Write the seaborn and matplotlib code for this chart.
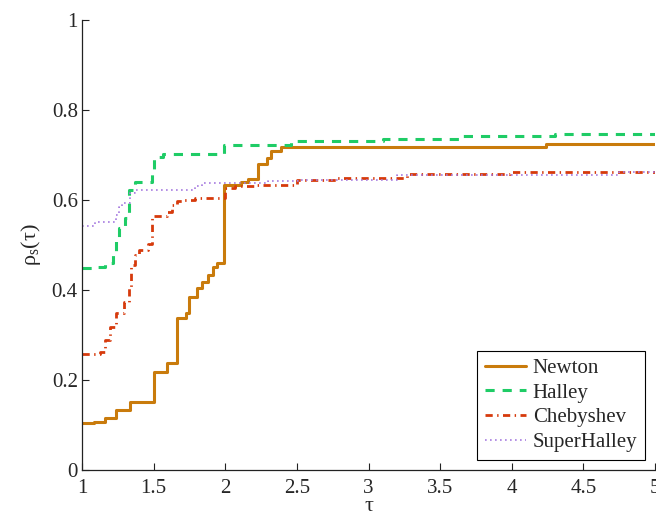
import matplotlib
matplotlib.use("Agg")
import matplotlib.pyplot as plt
import seaborn as sns
import pandas as pd

# ---- data (step profiles: value holds from x_i to x_{i+1}) ----
newton_x = [1, 1.084, 1.16, 1.24, 1.335, 1.5, 1.59, 1.66, 1.726, 1.747, 1.80, 1.835,
            1.88, 1.916, 1.94, 1.993, 2.11, 2.16, 2.23, 2.29, 2.32, 2.39, 4.236, 5]
newton_y = [0.104, 0.107, 0.115, 0.133, 0.152, 0.217, 0.237, 0.337, 0.349, 0.385, 0.404, 0.418,
            0.433, 0.452, 0.459, 0.633, 0.641, 0.646, 0.681, 0.693, 0.710, 0.718, 0.724, 0.724]

halley_x = [1, 1.09, 1.16, 1.216, 1.24, 1.26, 1.30, 1.33, 1.37, 1.49, 1.50, 1.567,
            1.99, 2.46, 3.1, 3.65, 4.3, 5]
halley_y = [0.450, 0.452, 0.459, 0.478, 0.511, 0.538, 0.560, 0.622, 0.641, 0.659, 0.696, 0.702,
            0.722, 0.731, 0.736, 0.742, 0.746, 0.746]

cheb_x = [1, 1.126, 1.16, 1.195, 1.24, 1.29, 1.33, 1.345, 1.37, 1.40, 1.46, 1.49,
          1.59, 1.626, 1.66, 1.707, 1.79, 2.0, 2.07, 2.2, 2.5, 2.78, 3.27, 3.99, 5]
cheb_y = [0.258, 0.263, 0.289, 0.318, 0.348, 0.374, 0.407, 0.456, 0.478, 0.489, 0.502, 0.564,
          0.574, 0.589, 0.598, 0.600, 0.605, 0.626, 0.631, 0.633, 0.644, 0.648, 0.657, 0.663, 0.665]

super_x = [1, 1.09, 1.237, 1.26, 1.277, 1.335, 1.37, 1.79, 1.835, 2.3, 2.51, 3.2, 4.75, 5]
super_y = [0.542, 0.550, 0.567, 0.585, 0.593, 0.616, 0.622, 0.631, 0.637, 0.643, 0.644, 0.656, 0.663, 0.663]

solvers = ["Newton", "Halley", "Chebyshev", "SuperHalley"]
x_ticks = [1, 1.5, 2, 2.5, 3, 3.5, 4, 4.5, 5]
x_tick_labels = ["1", "1.5", "2", "2.5", "3", "3.5", "4", "4.5", "5"]
y_ticks = [0, 0.2, 0.4, 0.6, 0.8, 1]
y_tick_labels = ["0", "0.2", "0.4", "0.6", "0.8", "1"]

series = {
    "Newton": (newton_x, newton_y),
    "Halley": (halley_x, halley_y),
    "Chebyshev": (cheb_x, cheb_y),
    "SuperHalley": (super_x, super_y),
}

styles = {
    "Newton": dict(color="#C97B0C", lw=2.2, ls="-"),
    "Halley": dict(color="#1FCC66", lw=2.2, ls=(0, (3, 2.6))),
    "Chebyshev": dict(color="#D63A0C", lw=2.0, ls=(0, (2.6, 1.6, 0.5, 1.6))),
    "SuperHalley": dict(color="#A77BE0", lw=1.2, ls=(0, (1, 2))),
}

sns.set_style("ticks")
plt.rcParams["font.family"] = ["Liberation Serif", "DejaVu Serif"]
plt.rcParams["mathtext.fontset"] = "custom"
plt.rcParams["mathtext.rm"] = "Liberation Serif"
plt.rcParams["mathtext.it"] = "Liberation Serif"

fig = plt.figure(figsize=(6.56, 5.16), dpi=100)
ax = fig.add_axes([82 / 656, 1 - 470 / 516, (655 - 82) / 656, (470 - 20) / 516])

for name in solvers:
    xs, ys = series[name]
    df = pd.DataFrame({"tau": xs, "rho": ys})
    st = styles[name]
    sns.lineplot(data=df, x="tau", y="rho", ax=ax, estimator=None, sort=False,
                 drawstyle="steps-post", color=st["color"], linewidth=st["lw"],
                 linestyle=st["ls"], label=name)

ax.set_xlim(1, 5)
ax.set_ylim(0, 1)
ax.set_xticks(x_ticks)
ax.set_xticklabels(x_tick_labels)
ax.set_yticks(y_ticks)
ax.set_yticklabels(y_tick_labels)
ax.tick_params(direction="in", length=5, width=0.8, labelsize=15, color="#222222")
ax.tick_params(axis="x", pad=6.5)
ax.tick_params(axis="y", pad=3)
for s in ["top", "right"]:
    ax.spines[s].set_visible(False)
for s in ["left", "bottom"]:
    ax.spines[s].set_linewidth(0.9)
    ax.spines[s].set_color("#222222")

ax.set_xlabel("τ", fontsize=16, labelpad=-1)
ax.set_ylabel(r"$\rho_s(\tau)$", fontsize=16, labelpad=6)

leg = ax.legend(loc="lower right", fontsize=15, frameon=True, fancybox=False,
                edgecolor="black", framealpha=1, borderpad=0.35, labelspacing=0.25,
                handlelength=2.0, handletextpad=0.3, borderaxespad=0.5)
leg.get_frame().set_linewidth(0.8)

fig.savefig("out.png", dpi=100)
